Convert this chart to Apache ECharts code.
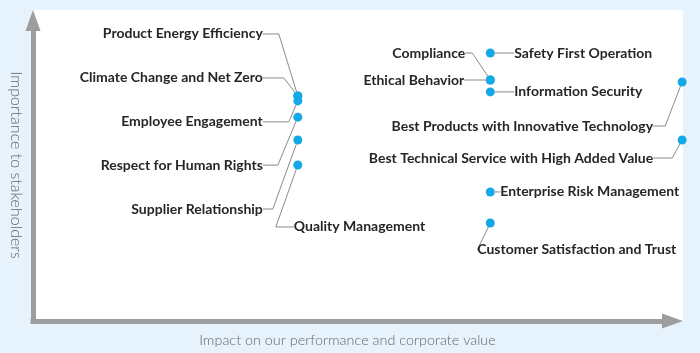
<!DOCTYPE html>
<html>
<head>
<meta charset="utf-8">
<script src="https://cdn.jsdelivr.net/npm/echarts@6/dist/echarts.min.js"></script>
<style>
  html, body { margin: 0; padding: 0; background: #e6f3fc; }
  #chart { width: 700px; height: 353px; }
</style>
</head>
<body>
<div id="chart"></div>
<script>
// issues (materiality matrix)
var issueNames = [
  'Product Energy Efficiency',
  'Climate Change and Net Zero',
  'Employee Engagement',
  'Respect for Human Rights',
  'Supplier Relationship',
  'Quality Management',
  'Compliance',
  'Ethical Behavior',
  'Safety First Operation',
  'Information Security',
  'Best Products with Innovative Technology',
  'Best Technical Service with High Added Value',
  'Enterprise Risk Management',
  'Customer Satisfaction and Trust'
];
// impact on performance (x) / importance to stakeholders (y)
var impactValues = [42.1, 42.1, 42.1, 42.1, 42.1, 42.1, 72.7, 72.7, 72.7, 72.7, 103.2, 103.2, 72.7, 72.7];
var importanceValues = [77.6, 77.6, 75.9, 70.3, 62.4, 53.8, 83.1, 83.1, 92.4, 79.0, 82.4, 62.4, 44.5, 33.8];

var xAxisName = 'Impact on our performance and corporate value';
var yAxisName = 'Importance to stakeholders';

// label placement: [dx, dy, align, leader length next to label]
var labelPlace = [
  [-35, -62, 'right', 16],
  [-35, -18, 'right', 21],
  [-35, 21, 'right', 26],
  [-35, 48, 'right', 15],
  [-35, 69, 'right', 10],
  [-4, 62, 'left', 18],
  [-25, -27, 'right', 7],
  [-26, 0, 'right', 0],
  [24, 0, 'left', 0],
  [24, 0, 'left', 0],
  [-29, 44, 'right', 12],
  [-29, 18, 'right', 19],
  [10, 0, 'left', 0],
  [0, 27, 'under', 0]
];
var underPad = 172;

var chart = echarts.init(document.getElementById('chart'));

var seriesData = issueNames.map(function (name, i) {
  var item = {
    name: name,
    value: [impactValues[i], importanceValues[i]],
    labelLine: { length2: labelPlace[i][3] }
  };
  if (labelPlace[i][2] === 'under') {
    // pad the label so that its top centre sits right below the dot
    item.label = { padding: [0, 0, 0, underPad] };
  }
  return item;
});

chart.setOption({
  backgroundColor: '#e6f3fc',
  animation: false,
  graphic: [{
    type: 'rect',
    z: -10,
    shape: { x: 33, y: 10, width: 650, height: 311 },
    style: { fill: '#ffffff' }
  }],
  grid: { left: 33, right: 38, top: 31, bottom: 32 },
  xAxis: {
    type: 'value', min: 0, max: 100,
    name: xAxisName, nameLocation: 'middle', nameGap: 12,
    nameTextStyle: { color: '#666666', fontSize: 14.4, fontFamily: 'Lato', fontWeight: 300 },
    axisLine: {
      show: true,
      symbol: ['none', 'triangle'], symbolSize: [15, 21], symbolOffset: [0, 10.5],
      lineStyle: { color: '#9d9d9d', width: 5, cap: 'square' }
    },
    axisTick: { show: false }, axisLabel: { show: false }, splitLine: { show: false }
  },
  yAxis: {
    type: 'value', min: 0, max: 100,
    name: yAxisName, nameLocation: 'middle', nameGap: 9, nameRotate: -90,
    nameTextStyle: {
      color: '#666666', fontSize: 16, fontFamily: 'Lato', fontWeight: 300,
      padding: [0, 22, 0, 0]
    },
    axisLine: {
      show: true,
      symbol: ['none', 'triangle'], symbolSize: [15, 21], symbolOffset: [0, 10.5],
      lineStyle: { color: '#9d9d9d', width: 5, cap: 'square' }
    },
    axisTick: { show: false }, axisLabel: { show: false }, splitLine: { show: false }
  },
  series: [{
    type: 'scatter',
    symbolSize: 9,
    clip: false,
    itemStyle: { color: '#14a9e6', opacity: 1 },
    label: {
      show: true,
      formatter: '{b}',
      color: '#262626',
      fontFamily: 'Lato',
      fontWeight: 'bold',
      fontSize: 14
    },
    labelLine: {
      show: true,
      lineStyle: { color: '#8a8a8a', width: 1 }
    },
    labelLayout: function (params) {
      var p = labelPlace[params.dataIndex];
      var cx = params.rect.x + params.rect.width / 2;
      var cy = params.rect.y + params.rect.height / 2;
      if (p[2] === 'under') {
        return { x: cx - 13 - underPad, y: cy + p[1], align: 'left', verticalAlign: 'middle' };
      }
      return { x: cx + p[0], y: cy + p[1], align: p[2], verticalAlign: 'middle' };
    },
    data: seriesData
  }]
});
</script>
</body>
</html>
